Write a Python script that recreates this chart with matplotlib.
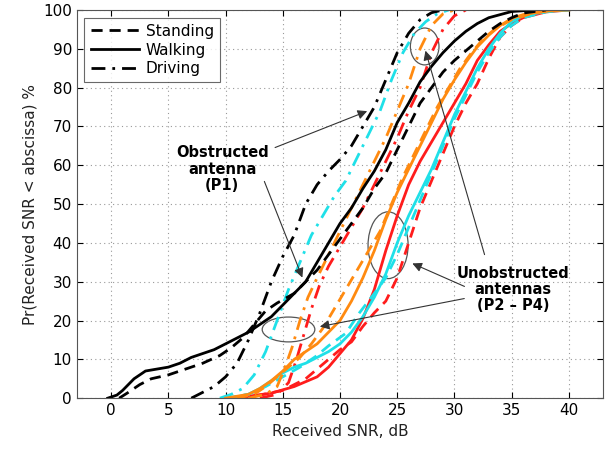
import numpy as np
from matplotlib import pyplot as plt
from matplotlib.patches import Ellipse

"""#Data (read off the picture)"""

# obstructed antenna P1, black
p1_walk_x = [-0.3, 0.5, 1, 2, 3, 4, 5, 6, 7, 8, 9, 10, 11, 12, 13, 14, 15, 16, 17, 18, 19, 20, 21, 22, 23, 24, 25, 26, 27, 28, 29, 30, 31, 32, 33, 35, 37]
p1_walk_y = [0, 0.8, 2, 5, 7, 7.5, 8, 9, 10.5, 11.5, 12.5, 14, 15.5, 17, 19, 21, 24, 27, 30, 35, 40, 45, 49, 54, 58.5, 64, 71, 76, 81.5, 85.5, 89, 92, 94.5, 96.5, 98, 99.6, 100]

p1_stand_x = [0.7, 1.5, 2.5, 3.5, 5, 6.5, 8, 9.5, 10.5, 11.5, 12.5, 13.5, 14.5, 16, 17, 18, 19, 20, 21, 22, 23, 24, 25, 26, 27, 28, 29, 30, 31, 32, 33, 34, 35, 36, 38]
p1_stand_y = [0, 1.5, 3.5, 5, 6, 7.5, 9, 11, 13, 15.5, 19, 22.5, 24.5, 27, 30, 33, 37, 41, 45, 49, 54, 58, 64, 70, 76, 80, 84, 87, 89.5, 92, 94.5, 96.5, 98, 99.2, 100]

p1_drive_x = [7, 8, 9, 10, 11, 12, 13, 14, 15, 16, 17, 18, 19, 20, 21, 22, 23, 24, 25, 26, 27, 28, 29]
p1_drive_y = [0, 1.5, 3, 5.5, 9, 15, 22, 30, 36.5, 42, 50, 55, 58.5, 61.5, 65, 70, 75, 82, 89, 94, 97.5, 99.3, 100]

# unobstructed antennas P2 - P4 (cyan, orange, red)
cyan_drive_x = [9.5, 10.5, 11.5, 12.5, 13.5, 14.5, 15.5, 16.5, 17.5, 18.5, 19.5, 20.5, 21.5, 22.5, 23.5, 24.5, 25.5, 26.5, 27.5, 28.5, 29.5]
cyan_drive_y = [0, 1, 2.5, 6, 12, 20, 28, 35, 42, 47, 52, 56, 62, 68, 74, 82, 89, 94, 97, 99, 100]

orange_drive_x = [12, 13.5, 14.5, 15.2, 15.8, 16.5, 17.2, 18, 19, 20, 21, 22, 23, 24, 25, 26, 27, 28, 29, 30]
orange_drive_y = [0, 1, 3, 8, 13, 20, 26, 31, 37, 43, 49, 55, 61, 67, 74, 81, 90, 96, 99, 100]

red_drive_x = [13, 14.5, 15.5, 16.2, 16.8, 17.5, 18.2, 19, 20, 21, 22, 23, 24, 25, 26, 27, 28, 29, 30, 31]
red_drive_y = [0, 1, 4, 10, 16, 23, 29, 34, 39, 44, 49, 55, 61, 67, 74, 80, 89, 95, 98.5, 100]

orange_walk_x = [10, 12, 13, 14, 15, 16, 17, 18, 19, 20, 21, 22, 23, 24, 25, 26, 27, 28, 29, 30, 31, 32, 33, 34, 35, 36, 38, 40]
orange_walk_y = [0, 1, 2.5, 4.5, 7, 10, 12, 14, 17, 20, 25, 31, 38, 46, 53, 59, 65, 71, 77, 82, 86.5, 90.5, 93.5, 96, 97.8, 98.8, 99.7, 100]

orange_stand_x = [11, 12.5, 13.5, 14.5, 15.5, 16.5, 17.5, 18.5, 19.5, 20.5, 21.5, 22.5, 23.5, 24.5, 25.5, 26.5, 27.5, 28.5, 29.5, 30.5, 31.5, 32.5, 33.5, 35, 37, 39]
orange_stand_y = [0, 1, 3, 5.5, 8, 10.5, 14, 18, 23, 28, 33, 38, 43, 50, 57, 63, 69, 75, 80, 85, 89, 92.5, 95, 97.5, 99.3, 100]

red_walk_x = [10, 12, 14, 16, 18, 19, 20, 21, 22, 23, 24, 25, 26, 27, 28, 29, 30, 31, 32, 33, 34, 35, 36, 38, 40]
red_walk_y = [0, 0.5, 1.3, 3, 5.5, 8, 11.5, 15, 20.5, 28, 38, 47, 55, 61, 66, 71, 76, 81, 87, 91, 94.5, 96.5, 98, 99.5, 100]

cyan_walk_x = [10.5, 12, 13, 14, 15, 16, 17, 18, 19, 20, 21, 22, 23, 24, 25, 26, 27, 28, 29, 30, 31, 32, 33, 34, 35, 36, 38, 40]
cyan_walk_y = [0, 1, 2.5, 4.5, 6.5, 8, 9, 10.5, 12, 14, 17, 21, 26, 32, 40, 47, 53, 59, 66, 73, 79, 85, 90, 94, 97, 98.5, 99.6, 100]

cyan_stand_x = [10, 12, 13.5, 15, 16.5, 18, 19, 20.5, 21.7, 23, 24, 25, 26, 27, 28, 29, 30, 31, 32, 33, 34, 35, 36, 38, 40]
cyan_stand_y = [0, 1, 3, 5.5, 8, 11, 13.5, 16.7, 22, 27, 31, 37, 44, 51, 58, 65, 72, 78, 84, 89, 93, 96, 98, 99.5, 100]

red_stand_x = [11, 13, 15, 17, 18, 19, 20, 21, 22, 23, 24, 25, 26, 27, 28, 29, 30, 31, 32, 33, 34, 35, 36, 37, 39]
red_stand_y = [0, 0.8, 2, 5, 7.5, 10, 12.5, 14.5, 18.5, 22, 25, 31, 40, 49, 56, 63, 70, 76, 81, 87.5, 93, 96, 98, 99.3, 100]

CYAN = '#1fe0e8'
ORANGE = '#ff8a10'
RED = '#ff1c1c'

dash = (0, (4, 2.5))
dashdot = (0, (5, 2.5, 1, 2.5))

"""#Plot"""

plt.rcParams['font.family'] = ['DejaVu Sans']
fig = plt.figure(figsize=(6.05, 4.53), dpi=100)
ax = fig.add_axes([0.127, 0.121, 0.870, 0.857])

lw = 2.0
ax.plot(red_walk_x, red_walk_y, color=RED, lw=lw)
ax.plot(red_stand_x, red_stand_y, color=RED, lw=lw, linestyle=dash)
ax.plot(red_drive_x, red_drive_y, color=RED, lw=lw, linestyle=dashdot)
ax.plot(cyan_walk_x, cyan_walk_y, color=CYAN, lw=lw)
ax.plot(cyan_stand_x, cyan_stand_y, color=CYAN, lw=lw, linestyle=dash)
ax.plot(cyan_drive_x, cyan_drive_y, color=CYAN, lw=lw, linestyle=dashdot)
ax.plot(orange_walk_x, orange_walk_y, color=ORANGE, lw=lw)
ax.plot(orange_stand_x, orange_stand_y, color=ORANGE, lw=lw, linestyle=dash)
ax.plot(orange_drive_x, orange_drive_y, color=ORANGE, lw=lw, linestyle=dashdot)
l1, = ax.plot(p1_stand_x, p1_stand_y, color='black', lw=lw, linestyle=dash, label='Standing')
l2, = ax.plot(p1_walk_x, p1_walk_y, color='black', lw=lw, label='Walking')
l3, = ax.plot(p1_drive_x, p1_drive_y, color='black', lw=lw, linestyle=dashdot, label='Driving')

ax.set_xlim(-3, 43)
ax.set_ylim(0, 100)
ax.set_xticks(np.arange(0, 41, 5))
ax.set_yticks(np.arange(0, 101, 10))
ax.tick_params(direction='in', top=True, right=True, labelsize=11, length=4)
ax.grid(True, linestyle=(0, (1, 3)), color='#999999', lw=0.8)
for s in ax.spines.values():
    s.set_color('#555555')
ax.set_xlabel('Received SNR, dB', fontsize=11, color='#222222')
ax.set_ylabel('Pr(Received SNR < abscissa) %', fontsize=11, color='#222222')

leg = ax.legend(handles=[l1, l2, l3], loc='upper left', fontsize=11, handlelength=3.2,
                fancybox=False, edgecolor='#444444', borderaxespad=0.5,
                labelspacing=0.25, handletextpad=0.4)
leg.get_frame().set_linewidth(0.8)

# annotations
ax.text(9.7, 59, 'Obstructed\nantenna\n(P1)', ha='center', va='center',
        fontsize=10.5, fontweight='bold', linespacing=1.1)
arr = dict(arrowstyle='-|>', color='#333333', lw=0.8, mutation_scale=14)
ax.annotate('', xy=(22.6, 74.2), xytext=(14.1, 64.3), arrowprops=arr)
ax.annotate('', xy=(16.8, 30.4), xytext=(13.3, 56.5), arrowprops=arr)

ax.text(35.1, 28, 'Unobstructed\nantennas\n(P2 \u2013 P4)', ha='center', va='center',
        fontsize=10.5, fontweight='bold', linespacing=1.1)
ax.annotate('', xy=(26.1, 35), xytext=(31.1, 28.5), arrowprops=arr)
ax.annotate('', xy=(18.0, 18.3), xytext=(31.1, 25.8), arrowprops=arr)
ax.annotate('', xy=(27.4, 90.2), xytext=(32.7, 36.3), arrowprops=arr)

for cx, cy, w, h in [(24.2, 39.4, 3.5, 17.2), (15.5, 17.7, 4.6, 6.4), (27.4, 90.6, 2.5, 9.5)]:
    ax.add_patch(Ellipse((cx, cy), w, h, fill=False, edgecolor='#555555', lw=0.9))

plt.savefig('out.png', dpi=100)
